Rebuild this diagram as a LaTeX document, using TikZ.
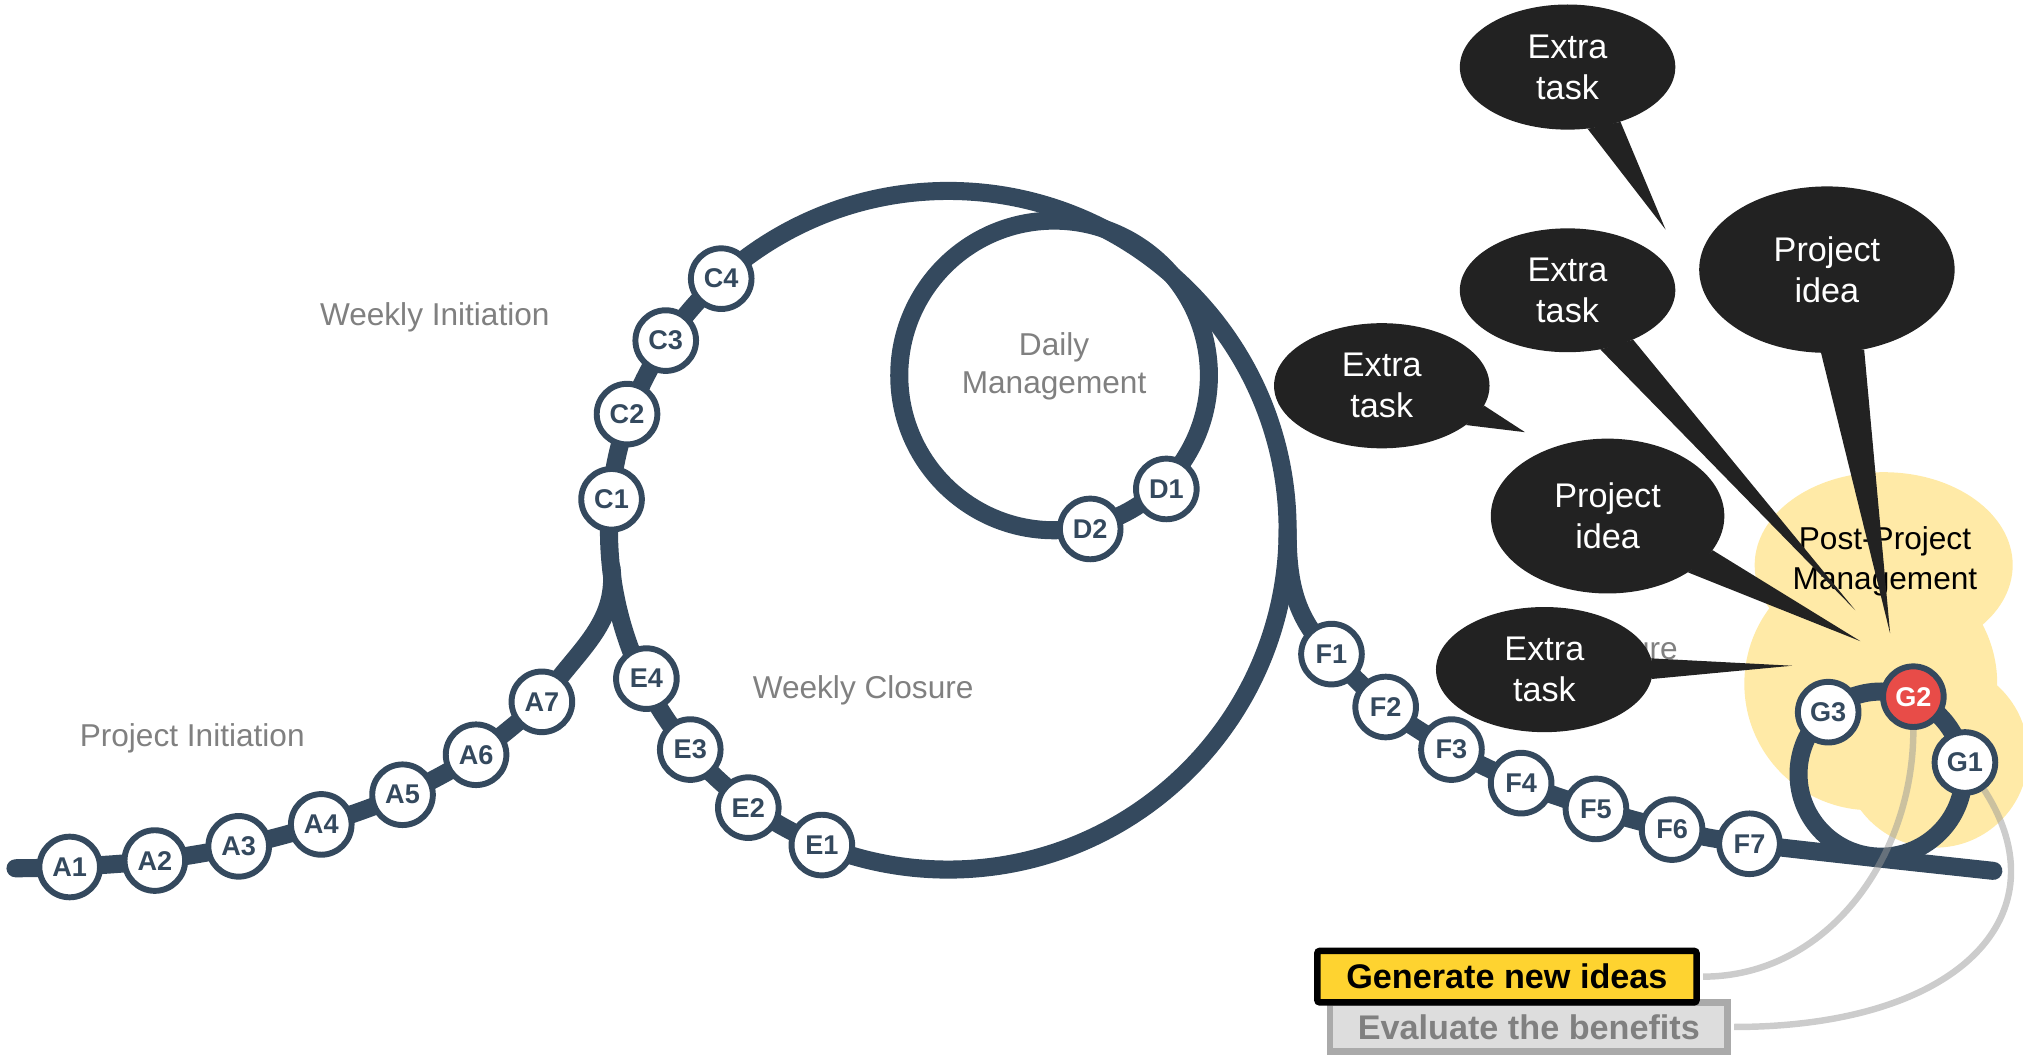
\documentclass[tikz,border=0pt]{standalone}
\usepackage{fontspec}
\setmainfont{Liberation Sans}
\usetikzlibrary{shapes.geometric,backgrounds}
\definecolor{Track}{RGB}{52,73,94}
\definecolor{Hot}{RGB}{232,76,72}
\definecolor{Bubble}{RGB}{34,34,34}
\definecolor{Cloud}{RGB}{255,234,167}
\definecolor{Soft}{RGB}{128,128,128}
\definecolor{Idea}{RGB}{254,211,48}
\definecolor{Pale}{RGB}{221,221,221}
\definecolor{Rim}{RGB}{170,170,170}
\newcommand{\fs}[2]{\fontsize{#1}{#2}\selectfont}
\tikzset{
  stn/.style={circle,draw=Track,line width=4.6pt,fill=white,minimum size=47pt,
    inner sep=0pt,text=Track,font=\fs{21}{21}\bfseries},
  hot/.style={fill=Hot,text=white},
  track/.style={draw=Track,line width=14pt,line cap=round},
  phase/.style={text=Soft,align=center,font=\fs{24.5}{30}},
  bub/.style={ellipse,fill=Bubble,text=white,inner sep=0pt,align=center,font=\fs{26.5}{32}},
  link/.style={draw=black!40,line width=5pt,opacity=0.5,shorten >=2.5pt},
  ideabox/.style={draw=black,line width=5pt,fill=Idea,rounded corners=2pt,minimum width=294pt,
    minimum height=40pt,inner sep=0pt,font=\fs{26.5}{26.5}\bfseries},
  evalbox/.style={draw=Rim,line width=5pt,fill=Pale,text=Soft,minimum width=308pt,
    minimum height=38pt,inner sep=0pt,font=\fs{26.5}{26.5}\bfseries}
}
\begin{document}
\begin{tikzpicture}[x=1pt,y=1pt]
  \useasboundingbox (0,0) rectangle (1568,818);
  % phase labels
  \node[phase] (pinit) at (149,246) {Project Initiation};
  \node[phase] (winit) at (337,572) {Weekly Initiation};
  \node[phase] (daily) at (817,534) {Daily\\Management};
  \node[phase] (wclose) at (669,283) {Weekly Closure};
  \node[phase,anchor=base east] (pclose) at (1304,307) {Project Closure};
  \node[align=center,font=\fs{24.5}{31}] (post) at (1461,383) {Post-Project\\Management};

  % stations
  \foreach \n/\x/\y in {A1/54/146,A2/120/151,A3/185/162,A4/249/179,A5/312/202,A6/369/233,A7/420/274,
      C1/474/431,C2/486/497,C3/516/554,C4/559/602,D1/904/439,D2/845/408,
      E1/637/163,E2/580/192,E3/535/237,E4/501/292,
      F1/1032/311,F2/1074/270,F3/1125/237,F4/1179/211,F5/1237/191,F6/1296/175,F7/1356/164,
      G1/1523/227,G3/1417/266}
    \node[stn] (\n) at (\x,\y) {\n};
  \node[stn,hot] (G2) at (1483,278) {G2};

  \begin{scope}[on background layer]
    % post-project cloud
    \fill[Cloud] (1460,380) ellipse[x radius=100,y radius=72];
    \fill[Cloud] (1450,288) circle[radius=98];
    \fill[Cloud] (1500,233) circle[radius=72];
    % loops
    \draw[track] (735,407) circle[radius=263];
    \draw[track] (817,527) circle[radius=120];
    \draw[track] (1458,218) circle[radius=64];
    % project initiation branch
    \draw[track] plot[smooth,tension=0.5] coordinates {(12,145) (A1.center) (A2.center) (A3.center)
        (A4.center) (A5.center) (A6.center) (A7.center)}
      to[out=57,in=-84] (474,378);
    % project closure branch
    \draw[track] (998,407) to[out=-90,in=136] (F1.center)
      plot[smooth,tension=0.5] coordinates {(F1.center) (F2.center) (F3.center) (F4.center)
        (F5.center) (F6.center) (F7.center) (1545,143)};
  \end{scope}

  % speech bubbles
  \node[bub,minimum width=167pt,minimum height=97pt] (b1) at (1215,766) {Extra\\task};
  \node[bub,minimum width=167pt,minimum height=96pt] (b2) at (1215,593) {Extra\\task};
  \node[bub,minimum width=198pt,minimum height=129pt] (b3) at (1416,609) {Project\\idea};
  \node[bub,minimum width=167pt,minimum height=97pt] (b4) at (1071,519) {Extra\\task};
  \node[bub,minimum width=181pt,minimum height=120pt] (b5) at (1246,418) {Project\\idea};
  \node[bub,minimum width=168pt,minimum height=97pt] (b6) at (1197,299) {Extra\\task};
  \coordinate (t1) at (1291,640);
  \coordinate (t2) at (1438,345);
  \coordinate (t3) at (1465,327);
  \coordinate (t4) at (1182,483);
  \coordinate (t5) at (1442,321);
  \coordinate (t6) at (1389,302);
  \foreach \b/\p/\q/\t in {b1/-72/-46/t1,b2/-61/-37/t2,b3/-94/-65/t3,b4/-11/-25/t4,
      b5/-18/-35/t5,b6/6/-5/t6}
    \fill[Bubble] (\b.\p) -- (\t) -- (\b.\q) -- cycle;

  % action boxes
  \node[evalbox] (eval) at (1185,22) {Evaluate the benefits};
  \node[ideabox] (gen) at (1168,61) {Generate new ideas};
  \draw[link] (G2.south) to[out=-90,in=0] (gen.east);
  \draw[link] (G1.-55) .. controls (1600,110) and (1520,22) .. (eval.east);
\end{tikzpicture}
\end{document}
